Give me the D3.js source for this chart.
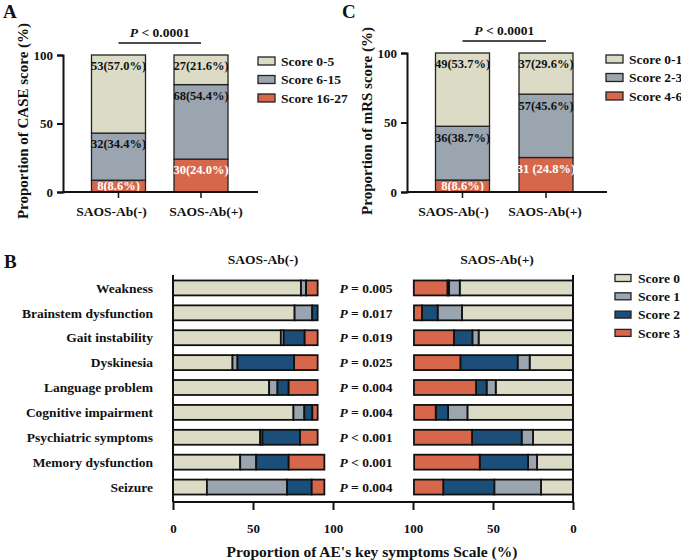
<!DOCTYPE html>
<html>
<head>
<meta charset="utf-8">
<script src="https://cdn.jsdelivr.net/npm/d3@7"></script>
<style>
  body { margin: 0; background: #fff; }
  svg text { font-family: "Liberation Serif", "Times New Roman", serif; font-weight: bold; fill: #111; }
</style>
</head>
<body>
<div id="chart"></div>
<script>
// ---- data ----
const groups = ["SAOS-Ab(-)", "SAOS-Ab(+)"];

// panel A (CASE score)
const caseKeys = ["Score 16-27", "Score 6-15", "Score 0-5"];
const casePct = [[8.6, 34.4, 57.0], [24.0, 54.4, 21.6]];
const caseLabels = [["8(8.6%)", "32(34.4%)", "53(57.0%)"], ["30(24.0%)", "68(54.4%)", "27(21.6%)"]];

// panel C (mRS score)
const mrsKeys = ["Score 4-6", "Score 2-3", "Score 0-1"];
const mrsPct = [[8.6, 38.7, 53.7], [24.8, 45.6, 29.6]];
const mrsLabels = [["8(8.6%)", "36(38.7%)", "49(53.7%)"], ["31 (24.8%)", "57(45.6%)", "37(29.6%)"]];

// panel B (key symptoms)
const symptoms = ["Weakness", "Brainstem dysfunction", "Gait instability", "Dyskinesia",
  "Language problem", "Cognitive impairment", "Psychiatric symptoms", "Memory dysfunction", "Seizure"];
const scoreKeys = ["Score 0", "Score 1", "Score 2", "Score 3"];
// score 0..3 per symptom, %
const negScores = [
  [80.0, 3.2, 0, 7.2],
  [76.0, 11.0, 3.4, 0],
  [67.4, 1.8, 13.1, 8.1],
  [37.2, 3.1, 35.4, 14.7],
  [60.1, 5.2, 7.0, 18.1],
  [75.3, 6.8, 5.0, 3.3],
  [54.5, 1.4, 23.5, 11.0],
  [42.0, 10.0, 20.3, 22.3],
  [21.2, 50.1, 15.4, 7.9]
];
const posScores = [
  [70.8, 6.7, 1.0, 21.0],
  [69.4, 15.2, 9.8, 5.0],
  [59.0, 3.9, 11.5, 25.0],
  [27.1, 7.5, 35.8, 29.0],
  [48.3, 5.7, 6.6, 38.8],
  [66.0, 12.1, 7.7, 13.5],
  [25.0, 7.1, 31.0, 36.3],
  [22.5, 5.6, 30.2, 41.0],
  [20.0, 29.2, 31.9, 18.3]
];
const pOps = ["=", "=", "=", "=", "=", "=", "<", "<", "="];
const pVals = ["0.005", "0.017", "0.019", "0.025", "0.004", "0.004", "0.001", "0.001", "0.004"];
const xTicks = [0, 50, 100];
const yTicks = [0, 50, 100];

const colBeige = "#dcdcc6", colGray = "#9aa5af", colBlue = "#1b4f7a", colRed = "#d7674b";

const W = 681, H = 560;
const svg = d3.select("#chart").append("svg").attr("width", W).attr("height", H);

// ---- stacked column panels (A and C) ----
function columnPanel(opt) {
  const g = svg.append("g");
  const y = d3.scaleLinear().domain([0, 100]).range([192, opt.top]).clamp(true);
  const x = d3.scalePoint().domain(groups).range(opt.centers);
  const bw = 54;
  const colors = d3.scaleOrdinal().domain(opt.keys).range([colRed, colGray, colBeige]);

  const rows = groups.map((gname, i) => {
    const r = { group: gname };
    opt.keys.forEach((k, j) => { r[k] = opt.pct[i][j]; });
    return r;
  });
  const series = d3.stack().keys(opt.keys)(rows);

  series.forEach((s, j) => {
    g.selectAll(null).data(s).join("rect")
      .attr("x", d => x(d.data.group) - bw / 2)
      .attr("width", bw)
      .attr("y", d => y(d[1]))
      .attr("height", d => y(d[0]) - y(d[1]))
      .attr("fill", colors(s.key))
      .attr("stroke", "#222").attr("stroke-width", 1.3);
    g.selectAll(null).data(s).join("text")
      .attr("x", d => x(d.data.group))
      .attr("y", d => Math.min(y(d[1]) + 11, (y(d[0]) + y(d[1])) / 2))
      .attr("dy", "0.35em")
      .attr("text-anchor", "middle")
      .style("font-size", "12.5px")
      .style("fill", j === 0 ? "#fff" : "#111")
      .text((d, i) => opt.labels[i][j]);
  });

  // y axis
  const ya = g.append("g").attr("transform", `translate(${opt.axisX},0)`)
    .call(d3.axisLeft(y).tickValues(yTicks).tickSize(6).tickPadding(4));
  ya.select(".domain").attr("stroke", "#111").attr("stroke-width", 2);
  ya.selectAll(".tick line").attr("stroke", "#111").attr("stroke-width", 2);
  ya.selectAll(".tick text").style("font-size", "13px").style("font-family", null);

  // baseline with ticks
  g.append("line").attr("x1", opt.axisX).attr("x2", opt.baseEnd)
    .attr("y1", y(0)).attr("y2", y(0)).attr("stroke", "#111").attr("stroke-width", 2);
  g.selectAll(null).data(groups).join("line")
    .attr("x1", d => x(d)).attr("x2", d => x(d))
    .attr("y1", y(0)).attr("y2", y(0) + 6)
    .attr("stroke", "#111").attr("stroke-width", 1.5);
  g.selectAll(null).data(groups).join("text")
    .attr("x", (d, i) => x(d) + opt.labelShift[i]).attr("y", 216)
    .attr("text-anchor", "middle").style("font-size", "13.5px").text(d => d);

  // y title
  g.append("text")
    .attr("transform", `translate(${opt.titleX},${121}) rotate(-90)`)
    .attr("text-anchor", "middle").style("font-size", "15px").text(opt.title);

  // significance bracket
  g.append("line").attr("x1", x(groups[0])).attr("x2", x(groups[1]))
    .attr("y1", opt.top - 12).attr("y2", opt.top - 12).attr("stroke", "#111").attr("stroke-width", 1.5);
  const pt = g.append("text").attr("x", (x(groups[0]) + x(groups[1])) / 2).attr("y", opt.top - 18)
    .attr("text-anchor", "middle").style("font-size", "13.5px");
  pt.append("tspan").style("font-style", "italic").text("P");
  pt.append("tspan").text(" < 0.0001");

  // legend
  const lg = g.append("g").attr("transform", `translate(${opt.legX},${opt.legY})`);
  opt.keys.slice().reverse().forEach((k, i) => {
    lg.append("rect").attr("x", 0).attr("y", i * 18.5 - 4).attr("width", 17).attr("height", 8)
      .attr("fill", colors(k)).attr("stroke", "#222").attr("stroke-width", 1.3);
    lg.append("text").attr("x", 23).attr("y", i * 18.5).attr("dy", "0.35em")
      .style("font-size", "13.5px").text(k);
  });

  // panel letter
  svg.append("text").attr("x", opt.letterX).attr("y", 18).style("font-size", "19px").text(opt.letter);
}

columnPanel({
  letter: "A", letterX: 3, keys: caseKeys, pct: casePct, labels: caseLabels,
  top: 55, centers: [118.5, 201], axisX: 63, baseEnd: 258, titleX: 28,
  labelShift: [-7, 5],
  title: "Proportion of CASE score (%)", legX: 258, legY: 61
});
columnPanel({
  letter: "C", letterX: 342, keys: mrsKeys, pct: mrsPct, labels: mrsLabels,
  top: 53, centers: [462.5, 546], axisX: 407, baseEnd: 607, titleX: 372,
  labelShift: [-9, -1],
  title: "Proportion of mRS score (%)", legX: 606, legY: 59
});

// ---- panel B ----
const gB = svg.append("g");
const yB = d3.scaleBand().domain(symptoms).range([275.5, 499.5]).paddingInner(0.4).paddingOuter(0.2);
const xL = d3.scaleLinear().domain([0, 100]).range([173, 333]);
const xR = d3.scaleLinear().domain([0, 100]).range([573, 413]);
const colB = d3.scaleOrdinal().domain(scoreKeys).range([colBeige, colGray, colBlue, colRed]);
const axisY = 502;

function hStack(vals, xs) {
  const rows = symptoms.map((s, i) => {
    const r = { sym: s };
    scoreKeys.forEach((k, j) => { r[k] = vals[i][j]; });
    return r;
  });
  const series = d3.stack().keys(scoreKeys)(rows);
  series.forEach(s => {
    gB.selectAll(null).data(s.filter(d => d[1] - d[0] > 0)).join("rect")
      .attr("x", d => Math.min(xs(d[0]), xs(d[1])))
      .attr("width", d => Math.abs(xs(d[1]) - xs(d[0])))
      .attr("y", d => yB(d.data.sym))
      .attr("height", yB.bandwidth())
      .attr("fill", colB(s.key))
      .attr("stroke", "#111").attr("stroke-width", 1.8);
  });
}
hStack(negScores, xL);
hStack(posScores, xR);

// axes lines
gB.append("line").attr("x1", xL(0)).attr("x2", xR(0)).attr("y1", axisY).attr("y2", axisY)
  .attr("stroke", "#111").attr("stroke-width", 2);
gB.append("line").attr("x1", xL(0)).attr("x2", xL(0)).attr("y1", 275).attr("y2", axisY)
  .attr("stroke", "#111").attr("stroke-width", 2);
gB.append("line").attr("x1", xR(0)).attr("x2", xR(0)).attr("y1", 275).attr("y2", axisY)
  .attr("stroke", "#111").attr("stroke-width", 2);

[xL, xR].forEach(sc => {
  const a = gB.append("g").attr("transform", `translate(0,${axisY})`)
    .call(d3.axisBottom(sc).tickValues(xTicks).tickSize(8).tickPadding(14));
  a.select(".domain").remove();
  a.selectAll(".tick line").attr("stroke", "#111").attr("stroke-width", 2);
  a.selectAll(".tick text").style("font-size", "13px").style("font-family", null);
});

// symptom labels
gB.selectAll(null).data(symptoms).join("text")
  .attr("x", 153).attr("y", d => yB(d) + yB.bandwidth() / 2).attr("dy", "0.35em")
  .attr("text-anchor", "end").style("font-size", "13.5px").text(d => d);

// p values
symptoms.forEach((s, i) => {
  const t = gB.append("text").attr("x", 366).attr("y", yB(s) + yB.bandwidth() / 2).attr("dy", "0.35em")
    .attr("text-anchor", "middle").style("font-size", "13.5px");
  t.append("tspan").style("font-style", "italic").text("P");
  t.append("tspan").text(` ${pOps[i]} ${pVals[i]}`);
});

// titles
gB.append("text").attr("x", (xL(0) + xL(100)) / 2 + 10).attr("y", 264).attr("text-anchor", "middle")
  .style("font-size", "13.5px").text(groups[0]);
gB.append("text").attr("x", (xR(0) + xR(100)) / 2 + 4).attr("y", 264).attr("text-anchor", "middle")
  .style("font-size", "13.5px").text(groups[1]);
gB.append("text").attr("x", 372).attr("y", 557).attr("text-anchor", "middle")
  .style("font-size", "15.5px").text("Proportion of AE's key symptoms Scale (%)");
svg.append("text").attr("x", 4).attr("y", 268).style("font-size", "19px").text("B");

// legend B
const lgB = gB.append("g").attr("transform", "translate(615,278)");
scoreKeys.forEach((k, i) => {
  lgB.append("rect").attr("x", 0).attr("y", i * 18.3 - 3.5).attr("width", 16).attr("height", 7)
    .attr("fill", colB(k)).attr("stroke", "#222").attr("stroke-width", 1.3);
  lgB.append("text").attr("x", 23).attr("y", i * 18.3).attr("dy", "0.35em")
    .style("font-size", "13.5px").text(k);
});
</script>
</body>
</html>
